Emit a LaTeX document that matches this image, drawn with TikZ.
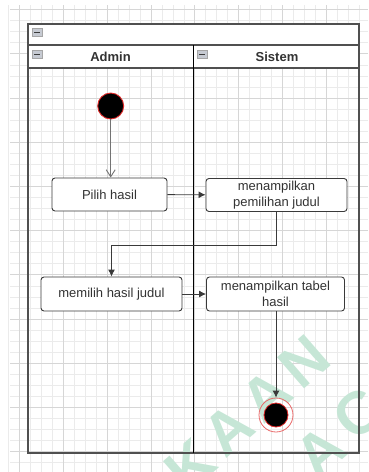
\documentclass[tikz,border=0pt]{standalone}
\usepackage{fontspec}
\setmainfont{Liberation Sans}
\usetikzlibrary{arrows.meta,positioning,calc}

\definecolor{gridminor}{HTML}{EBEBEB}
\definecolor{gridmajor}{HTML}{D6D6D6}
\definecolor{frameline}{HTML}{505050}
\definecolor{boxline}{HTML}{3A3A3A}
\definecolor{txt}{HTML}{333333}
\definecolor{startred}{HTML}{E02828}
\definecolor{iconfill}{HTML}{C6CAD2}
\definecolor{wmark}{HTML}{C6E6D6}

\tikzset{
  actbox/.style={draw=boxline, line width=0.9pt, rounded corners=3pt, fill=white,
    minimum height=33pt, inner sep=1pt, align=center, font=\fontsize{13}{16}\selectfont,
    text=txt},
  flow/.style={draw=boxline, line width=0.9pt, -{Latex[length=7pt,width=7pt]}},
  openflow/.style={draw=gray!90!black, line width=0.9pt, -{Straight Barb[length=7pt,width=9pt]}},
  lanehead/.style={font=\bfseries\fontsize{13}{15}\selectfont, text=txt},
  iconbox/.style={fill=iconfill, draw=gray!70, line width=0.4pt, minimum width=10pt,
    minimum height=8pt, inner sep=0pt},
  wm/.style={text=wmark, font=\bfseries\fontsize{60}{60}\selectfont, rotate=41, inner sep=0pt}
}

\begin{document}
\begin{tikzpicture}[x=1pt,y=-1pt]
\useasboundingbox (0,0) rectangle (368,472);
\clip (0,0) rectangle (368,472);

% background grid
\foreach \i in {0,...,33} {
  \draw[gridminor, line width=0.5pt] ({8.55+10.95*\i},5) -- ({8.55+10.95*\i},472);
}
\foreach \j in {0,...,43} {
  \draw[gridminor, line width=0.5pt] (10,{9.5+11.05*\j-11.05}) -- (368,{9.5+11.05*\j-11.05});
}
\foreach \i in {0,...,8} {
  \draw[gridmajor, line width=0.7pt] ({19.5+43.8*\i},5) -- ({19.5+43.8*\i},472);
}
\foreach \j in {0,...,10} {
  \draw[gridmajor, line width=0.7pt] (10,{9.5+44.2*\j}) -- (368,{9.5+44.2*\j});
}

% watermark letters
\node[wm] (wk) at (190,466) {K};
\node[wm] (wa1) at (228,430) {A};
\node[wm] (wa2) at (266,396) {A};
\node[wm] (wn) at (304,362) {N};
\node[wm] (wa3) at (320,452) {A};
\node[wm] (wc) at (358,414) {C};

% pool frame with title and lane header rows
\fill[white] (28,24) rectangle (359,68);
\draw[frameline, line width=1.5pt] (28,24) rectangle (359,453);
\draw[frameline, line width=1.3pt] (28,45) -- (359,45);
\draw[frameline, line width=1.3pt] (28,68) -- (359,68);
\draw[black, line width=1pt] (193,45) -- (193,453);

% collapse icons
\node[iconbox] (ic0) at (37,32.5) {};
\draw[boxline, line width=0.8pt] (34,32.5) -- (40,32.5);
\node[iconbox] (ic1) at (37,54) {};
\draw[boxline, line width=0.8pt] (34,54) -- (40,54);
\node[iconbox] (ic2) at (202,54) {};
\draw[boxline, line width=0.8pt] (199,54) -- (205,54);

% lane titles
\node[lanehead] (admin) at (110.5,57) {Admin};
\node[lanehead] (sistem) at (277,57) {Sistem};

% start and end states
\node[circle, fill=black, draw=startred, line width=0.9pt, minimum size=26pt, inner sep=0pt] (start) at (110.7,106) {};
\node[circle, draw=startred!70, line width=0.8pt, minimum size=34pt, inner sep=0pt] (end) at (276,415) {};
\node[circle, fill=black, draw=startred, line width=0.8pt, minimum size=24pt, inner sep=0pt] (endin) at (276,415) {};

% activities
\node[actbox, minimum width=115pt] (b1) at (109.5,194.5) {Pilih hasil};
\node[actbox, minimum width=141pt] (b2) at (276.5,195) {menampilkan\\pemilihan judul};
\node[actbox, minimum width=141pt, minimum height=34pt] (b3) at (111.5,294) {memilih hasil judul};
\node[actbox, minimum width=138pt, minimum height=34pt] (b4) at (275.5,294) {menampilkan tabel\\hasil};

% transitions
\draw[openflow] (start) -- (start |- b1.north);
\draw[flow] (b1) -- (b2);
\draw[flow] (b2.south) -- ++(0,33) -| (b3.north);
\draw[flow] (b3) -- (b4);
\draw[flow] (end.north |- b4.south) -- (end.north);
\end{tikzpicture}
\end{document}
